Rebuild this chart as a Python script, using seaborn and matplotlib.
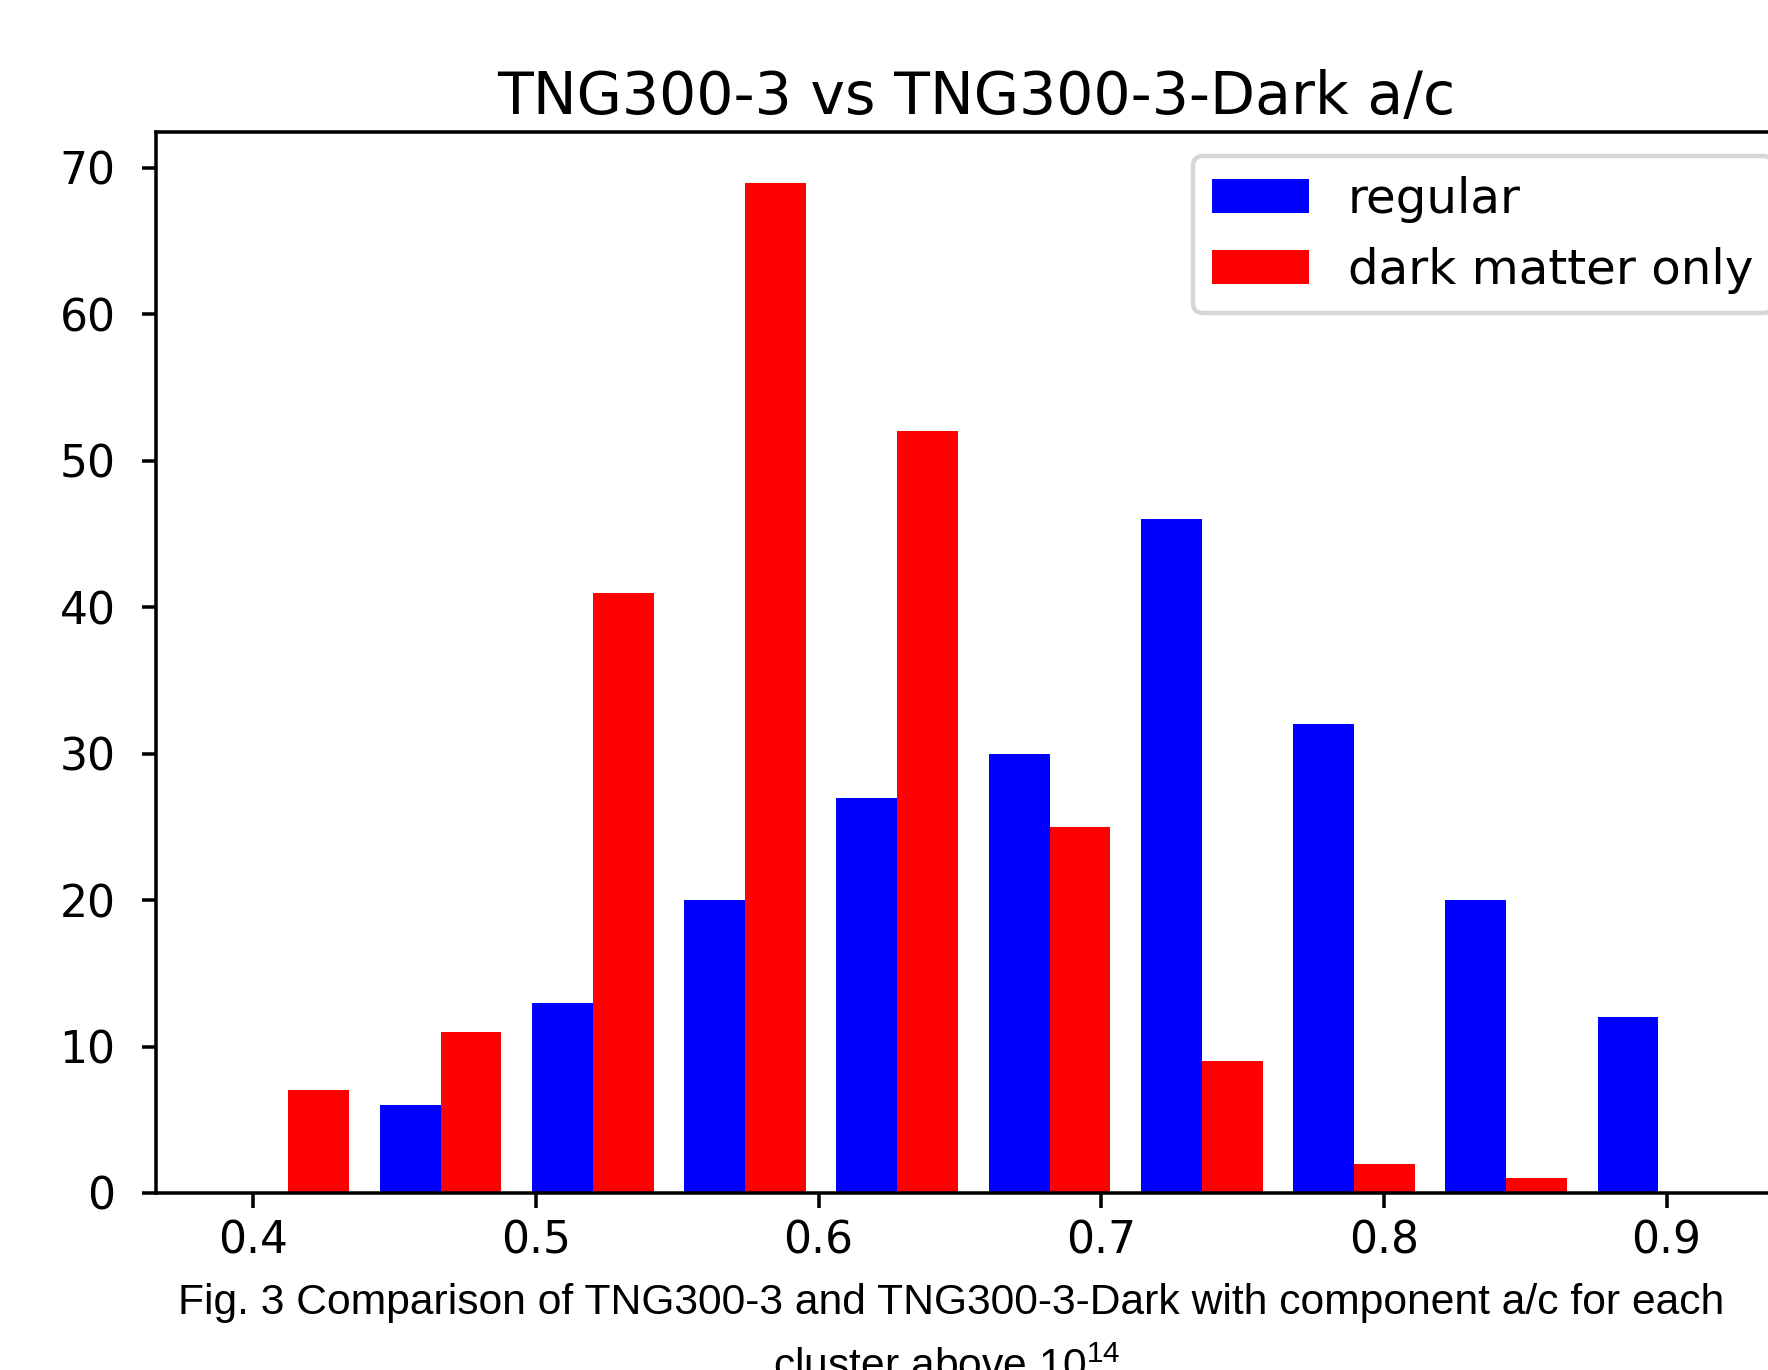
import numpy as np
import pandas as pd
import matplotlib
matplotlib.use("Agg")
import matplotlib.pyplot as plt
import seaborn as sns
from matplotlib.patches import Patch

# histogram of a/c per cluster
bin_edges = [0.3855, 0.4394, 0.4932, 0.5471, 0.6009, 0.6548,
             0.7086, 0.7625, 0.8163, 0.8702, 0.9240]
regular_counts = [0, 6, 13, 20, 27, 30, 46, 32, 20, 12]
dark_counts = [7, 11, 41, 69, 52, 25, 9, 2, 1, 0]
series_names = ["regular", "dark matter only"]
series_colors = ["blue", "red"]

title = "TNG300-3 vs TNG300-3-Dark a/c"
caption_1 = "Fig. 3 Comparison of TNG300-3 and TNG300-3-Dark with component a/c for each"
caption_2 = "cluster above 10$^{14}$."

DPI = 317
W, H = 1768, 1370

plt.rcParams["font.family"] = ["DejaVu Sans"]
plt.rcParams["mathtext.fontset"] = "custom"
plt.rcParams["mathtext.rm"] = "Liberation Sans"
plt.rcParams["mathtext.it"] = "Liberation Sans:italic"
plt.rcParams["mathtext.bf"] = "Liberation Sans:bold"

edges = np.array(bin_edges)
centers = (edges[:-1] + edges[1:]) / 2
df = pd.DataFrame({
    "ac": np.concatenate([centers, centers]),
    "count": regular_counts + dark_counts,
    "type": [series_names[0]] * len(centers) + [series_names[1]] * len(centers),
})

fig = plt.figure(figsize=(W / DPI, H / DPI), dpi=DPI)
# axes runs past the right edge, like the cropped original
x_right = 1797
ax = fig.add_axes([156 / W, (H - 1193) / H, (x_right - 156) / W, (1193 - 132) / H])

sns.histplot(data=df, x="ac", weights="count", hue="type", hue_order=series_names,
             bins=bin_edges, multiple="dodge", shrink=0.8, alpha=1, linewidth=0,
             palette=dict(zip(series_names, series_colors)), legend=False, ax=ax)

ax.set_xlim(0.3656, 0.3656 + (0.944 - 0.3656) * (x_right - 156) / (1791 - 156))
ax.set_ylim(0, 72.45)
ax.set_xlabel("")
ax.set_ylabel("")
ax.set_title(title, fontsize=13.3, pad=4)
ax.tick_params(axis="both", labelsize=10)
ax.tick_params(axis="y", pad=6, length=3.2)
ax.tick_params(axis="x", pad=2.5)

handles = [Patch(facecolor=c, label=n) for n, c in zip(series_names, series_colors)]
ax.legend(handles=handles, loc="upper right", fontsize=11)

fig.text(951.5 / W, (H - 1314) / H, caption_1, ha="center", va="baseline",
         family="Liberation Sans", fontsize=9.7)
fig.text(951.5 / W, (H - 1379) / H, caption_2, ha="center", va="baseline",
         family="Liberation Sans", fontsize=9.7)

fig.savefig("out.png", dpi=DPI)
